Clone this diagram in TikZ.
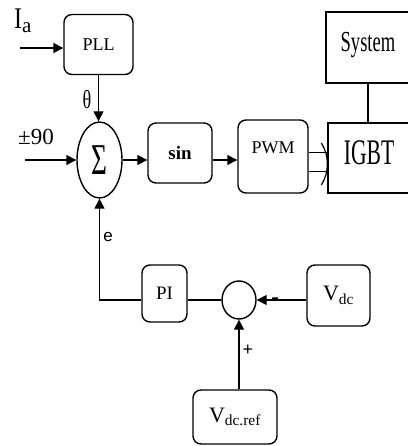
\documentclass[tikz,border=0pt]{standalone}
\usepackage{fontspec}
\setmainfont{Liberation Serif}
\setsansfont{Liberation Sans}
\usepackage{graphicx}
\usepackage{tikz}
\usetikzlibrary{arrows.meta,positioning,shapes.geometric,calc}

\begin{document}
\begin{tikzpicture}[
  x=10pt, y=-10pt,
  blk/.style={draw, rounded corners=8pt, line width=1.4pt, align=center, inner sep=0pt},
  sqr/.style={draw, line width=1.4pt, align=center, inner sep=0pt},
  arr/.style={-{Triangle[length=10pt, width=10pt]}, line width=1.4pt},
  wire/.style={line width=1.4pt},
  lbl/.style={inner sep=0pt}
]
  \useasboundingbox (0,0) rectangle (40.7,44.6);

  % Top row: PLL and sum
  \node[blk, minimum width=69pt, minimum height=60pt, font=\fontsize{18}{20}\selectfont] (pll) at (9.85,4.45) {PLL};
  \node[draw, ellipse, line width=1.4pt, minimum width=45pt, minimum height=76pt, inner sep=0pt] (sigma) at (9.95,16.0)
    {\scalebox{0.62}[1]{\fontsize{44}{44}\selectfont Σ}};

  % Forward path
  \node[blk, minimum width=64pt, minimum height=60pt, font=\fontsize{19}{21}\selectfont\bfseries] (sin) at (18.0,15.3) {sin};
  \node[blk, minimum width=70pt, minimum height=73pt, font=\fontsize{18}{20}\selectfont] (pwm) at (27.3,15.65) {\raisebox{17pt}{PWM}};
  \node[sqr, minimum width=82pt, minimum height=70pt] (igbt) at (36.9,15.8)
    {\raisebox{11pt}{\scalebox{0.6}[1]{\fontsize{36}{38}\selectfont IGBT}}};
  \node[sqr, minimum width=84pt, minimum height=71pt] (sys) at (36.8,4.75)
    {\raisebox{12pt}{\scalebox{0.64}[1]{\fontsize{29}{31}\selectfont System}}};

  % DC voltage loop
  \node[blk, minimum width=45pt, minimum height=57pt, font=\fontsize{19}{21}\selectfont] (pi) at (16.45,29.35) {PI};
  \node[draw, ellipse, line width=1.4pt, minimum width=34pt, minimum height=38pt, inner sep=0pt] (sum2) at (23.9,30.0) {};
  \node[blk, minimum width=63pt, minimum height=61pt, font=\fontsize{22}{24}\selectfont] (vdc) at (33.85,29.55)
    {V\textsubscript{dc}};
  \node[blk, minimum width=84pt, minimum height=54pt, font=\fontsize{22}{24}\selectfont] (vref) at (23.5,41.7)
    {V\textsubscript{dc.ref}};

  % Labels
  \node[lbl, font=\fontsize{30}{32}\selectfont] (ia) at (2.3,2.1) {\scalebox{0.8}[1]{I}\textsubscript{a}};
  \node[lbl, font=\fontsize{26}{28}\selectfont] (theta) at (8.7,10.0) {\scalebox{0.7}[1]{θ}};
  \node[lbl, font=\fontsize{23}{25}\selectfont] (pm) at (3.6,13.7) {±90};
  \node[lbl, font=\sffamily\fontsize{17}{19}\selectfont] (e) at (10.8,23.7) {e};
  \node[lbl, font=\sffamily\bfseries\fontsize{24}{26}\selectfont] (minus) at (27.5,30.2) {-};
  \node[lbl, font=\sffamily\fontsize{18}{20}\selectfont] (plus) at (24.8,35.0) {+};

  \coordinate (iain) at (2.0,4.8);
  \coordinate (pmin) at (2.5,16.0);

  % Connectors
  \draw[arr] (iain) -- (iain -| pll.west);
  \draw[arr] (pll.south) -- (pll.south |- sigma.north);
  \draw[arr] (pmin) -- (sigma.west);
  \draw[arr] (sigma.east) -- (sigma.east -| sin.west);
  \draw[arr] (sin.east |- sigma.east) -- (sigma.east -| pwm.west);
  \draw[wire] ([yshift=4pt]pwm.east) -- ([yshift=4pt]pwm.east -| igbt.west);
  \draw[wire] ([yshift=-15pt]pwm.east) -- ([yshift=-15pt]pwm.east -| igbt.west);
  % open double arrowhead
  \draw[line width=1.2pt] ([shift={(-6pt,15pt)}]igbt.west) to[bend left=15] ([shift={(0pt,-6pt)}]igbt.west)
    to[bend left=15] ([shift={(-6pt,-27pt)}]igbt.west);
  \draw[wire] (sys.south) -- (sys.south |- igbt.north);

  \draw[wire] (sum2.west) -- (sum2.west -| pi.east);
  \draw[arr] (pi.west |- sum2.west) -| (sigma.south);
  \draw[arr] (vdc.west |- sum2.east) -- (sum2.east);
  \draw[arr] (sum2.south |- vref.north) -- (sum2.south);
\end{tikzpicture}
\end{document}
